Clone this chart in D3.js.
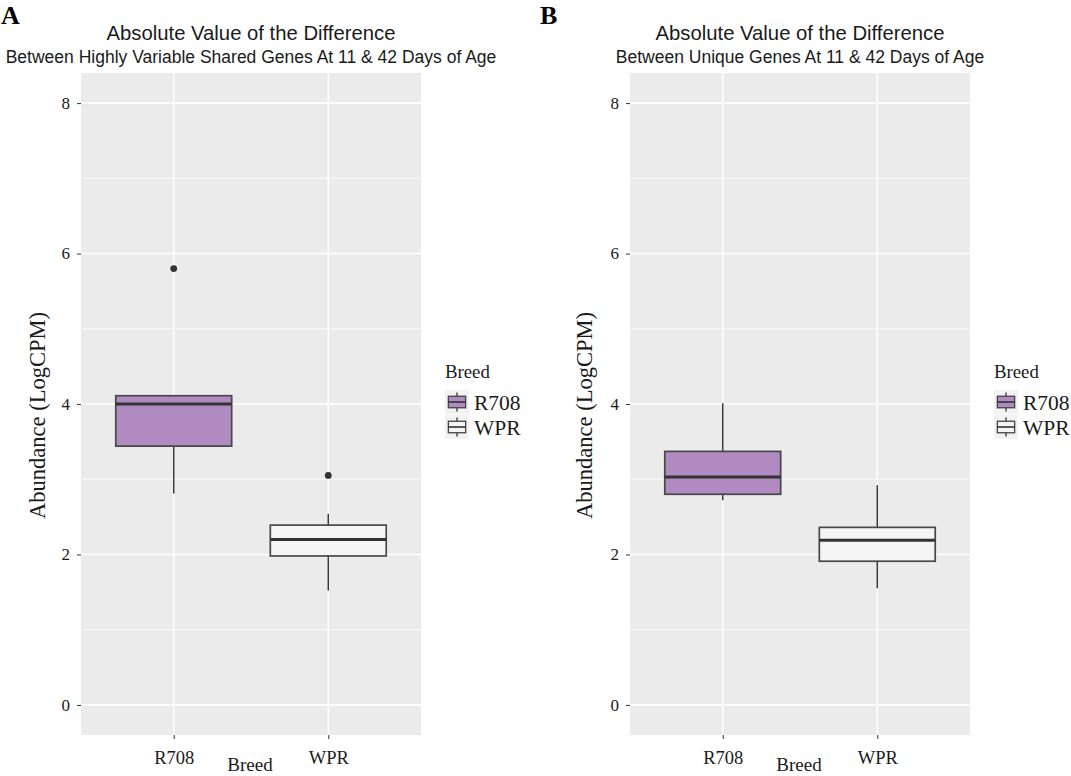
<!DOCTYPE html>
<html>
<head>
<meta charset="utf-8">
<script src="https://cdn.jsdelivr.net/npm/d3@7"></script>
<style>
  html, body { margin: 0; padding: 0; background: #ffffff; }
  svg { display: block; }
</style>
</head>
<body>
<svg id="chart" width="1071" height="776"></svg>
<script>
// ---------- data ----------
const categories = ["R708", "WPR"];
const yTicks = [0, 2, 4, 6, 8];
const yMinor = [1, 3, 5, 7];

// Panel A: highly variable shared genes
const aLow    = [2.81, 1.52];
const aQ1     = [3.44, 1.98];
const aMedian = [4.00, 2.20];
const aQ3     = [4.11, 2.39];
const aHigh   = [4.12, 2.54];
const aOutliers = [[5.80], [3.05]];

// Panel B: unique genes
const bLow    = [2.72, 1.55];
const bQ1     = [2.80, 1.91];
const bMedian = [3.03, 2.19];
const bQ3     = [3.37, 2.36];
const bHigh   = [4.01, 2.92];
const bOutliers = [[], []];

const fillColors = ["#b08ac0", "#f5f5f5"];
const titleMain = "Absolute Value of the Difference";
const subA = "Between Highly Variable Shared Genes At 11 & 42 Days of Age";
const subB = "Between Unique Genes At 11 & 42 Days of Age";

// ---------- drawing ----------
const svg = d3.select("#chart");
const serif = "'Liberation Serif', 'Times New Roman', serif";
const sans = "'Liberation Sans', Arial, sans-serif";

function panel(cfg) {
  const { left, right, top, bottom, low, q1, med, q3, high, outliers, letter, letterX, sub, legendX, yTitleX } = cfg;
  const g = svg.append("g");

  const y = d3.scaleLinear().domain([-0.4, 8.4]).range([bottom, top]);
  const x = d3.scalePoint().domain(categories).range([left, right]).padding(0.6);
  const boxW = x.step() * 0.75;

  // background
  g.append("rect").attr("x", left).attr("y", top)
    .attr("width", right - left).attr("height", bottom - top).attr("fill", "#ebebeb");

  // minor grid
  g.selectAll(".minor").data(yMinor).join("line")
    .attr("x1", left).attr("x2", right)
    .attr("y1", d => y(d)).attr("y2", d => y(d))
    .attr("stroke", "#ffffff").attr("stroke-width", 0.8);
  // major grid
  g.selectAll(".majorY").data(yTicks).join("line")
    .attr("x1", left).attr("x2", right)
    .attr("y1", d => y(d)).attr("y2", d => y(d))
    .attr("stroke", "#ffffff").attr("stroke-width", 1.6);
  g.selectAll(".majorX").data(categories).join("line")
    .attr("x1", d => x(d)).attr("x2", d => x(d))
    .attr("y1", top).attr("y2", bottom)
    .attr("stroke", "#ffffff").attr("stroke-width", 1.6);

  // axes
  const yAxis = d3.axisLeft(y).tickValues(yTicks).tickSize(4).tickPadding(7);
  const ya = g.append("g").attr("transform", `translate(${left},0)`).call(yAxis);
  ya.select(".domain").remove();
  ya.selectAll(".tick line").attr("stroke", "#333333").attr("stroke-width", 1);
  ya.selectAll(".tick text").attr("font-family", serif).attr("font-size", "17px").attr("fill", "#1a1a1a");

  const xAxis = d3.axisBottom(x).tickSize(4).tickPadding(12);
  const xa = g.append("g").attr("transform", `translate(0,${bottom})`).call(xAxis);
  xa.select(".domain").remove();
  xa.selectAll(".tick line").attr("stroke", "#333333").attr("stroke-width", 1);
  xa.selectAll(".tick text").attr("font-family", serif).attr("font-size", "18.5px").attr("fill", "#1a1a1a");

  // boxplots
  categories.forEach((c, i) => {
    const cx = x(c);
    g.append("line").attr("x1", cx).attr("x2", cx).attr("y1", y(q3[i])).attr("y2", y(high[i]))
      .attr("stroke", "#3a3a3a").attr("stroke-width", 1.5);
    g.append("line").attr("x1", cx).attr("x2", cx).attr("y1", y(q1[i])).attr("y2", y(low[i]))
      .attr("stroke", "#3a3a3a").attr("stroke-width", 1.5);
    g.append("rect").attr("x", cx - boxW / 2).attr("y", y(q3[i]))
      .attr("width", boxW).attr("height", y(q1[i]) - y(q3[i]))
      .attr("fill", fillColors[i]).attr("stroke", "#484848").attr("stroke-width", 1.7);
    g.append("line").attr("x1", cx - boxW / 2).attr("x2", cx + boxW / 2)
      .attr("y1", y(med[i])).attr("y2", y(med[i]))
      .attr("stroke", "#333333").attr("stroke-width", 3);
    g.selectAll(null).data(outliers[i]).join("circle")
      .attr("cx", cx).attr("cy", d => y(d)).attr("r", 3.4).attr("fill", "#333333");
  });

  // titles
  const cxp = (left + right) / 2;
  g.append("text").attr("x", cxp).attr("y", 39.5).attr("text-anchor", "middle")
    .attr("font-family", sans).attr("font-size", "20.3px").attr("fill", "#1a1a1a").text(titleMain);
  g.append("text").attr("x", cxp).attr("y", 63).attr("text-anchor", "middle")
    .attr("font-family", sans).attr("font-size", "17.5px").attr("fill", "#1a1a1a").text(sub);
  g.append("text").attr("x", letterX).attr("y", 24).attr("font-family", serif)
    .attr("font-weight", "bold").attr("font-size", "26px").attr("fill", "#000").text(letter);

  // axis titles
  g.append("text").attr("x", cxp - 1).attr("y", 770.5).attr("text-anchor", "middle")
    .attr("font-family", serif).attr("font-size", "19px").attr("fill", "#1a1a1a").text("Breed");
  g.append("text").attr("transform", `translate(${yTitleX},415.5) rotate(-90)`).attr("text-anchor", "middle")
    .attr("font-family", serif).attr("font-size", "22.5px").attr("fill", "#1a1a1a").text("Abundance (LogCPM)");

  // legend
  const lg = g.append("g").attr("transform", `translate(${legendX},0)`);
  lg.append("text").attr("x", 0).attr("y", 378).attr("font-family", serif)
    .attr("font-size", "18.8px").attr("fill", "#1a1a1a").text("Breed");
  const ks = 24;
  categories.forEach((c, i) => {
    const ky = 390 + i * 25;
    const kg = lg.append("g").attr("transform", `translate(0,${ky})`);
    kg.append("rect").attr("width", ks).attr("height", ks).attr("fill", "#f2f2f2");
    kg.append("line").attr("x1", ks / 2).attr("x2", ks / 2).attr("y1", ks * 0.1).attr("y2", ks * 0.9)
      .attr("stroke", "#333333").attr("stroke-width", 1.3);
    kg.append("rect").attr("x", ks * 0.14).attr("y", ks * 0.26).attr("width", ks * 0.72).attr("height", ks * 0.48)
      .attr("fill", fillColors[i]).attr("stroke", "#444444").attr("stroke-width", 1.3);
    kg.append("line").attr("x1", ks * 0.14).attr("x2", ks * 0.86).attr("y1", ks / 2).attr("y2", ks / 2)
      .attr("stroke", "#333333").attr("stroke-width", 1.6);
    lg.append("text").attr("x", ks + 5).attr("y", ky + ks / 2).attr("dy", "0.36em")
      .attr("font-family", serif).attr("font-size", "21.5px").attr("fill", "#1a1a1a").text(c);
  });
}

panel({ left: 81, right: 421, top: 73, bottom: 735, low: aLow, q1: aQ1, med: aMedian, q3: aQ3, high: aHigh,
        outliers: aOutliers, letter: "A", letterX: 1, sub: subA, legendX: 445, yTitleX: 45 });
panel({ left: 630, right: 970, top: 73, bottom: 735, low: bLow, q1: bQ1, med: bMedian, q3: bQ3, high: bHigh,
        outliers: bOutliers, letter: "B", letterX: 540, sub: subB, legendX: 994, yTitleX: 592 });
</script>
</body>
</html>
